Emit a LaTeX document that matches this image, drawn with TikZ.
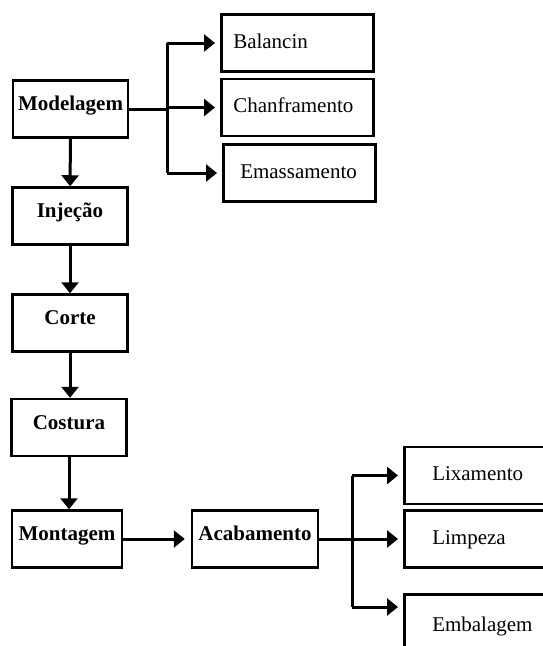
\documentclass[tikz,border=0pt]{standalone}
\usepackage{fontspec}
\setmainfont{Liberation Serif}
\usetikzlibrary{arrows.meta}

\tikzset{
	stepbox/.style={draw, line width=2.5pt, inner sep=0pt, minimum width=115pt, minimum height=57pt,
		text height=13pt, text depth=10pt, font=\fontsize{21pt}{25pt}\selectfont\bfseries},
	taskbox/.style={draw, line width=2.5pt, inner ysep=0pt, inner xsep=12pt, text width=128pt, align=left,
		minimum height=57pt, text height=18pt, text depth=8pt, anchor=west, font=\fontsize{21pt}{25pt}\selectfont},
	flow/.style={line width=3pt, -{Triangle[length=11pt,width=17pt]}},
	link/.style={line width=3pt}
}

\begin{document}
\begin{tikzpicture}[x=1pt,y=-1pt]
		\useasboundingbox (0,0) rectangle (543,646);
		\clip (0,0) rectangle (543,646);
		%main steps
			\node[stepbox] (modelagem) at (70.5,109) {Modelagem};
			\node[stepbox] (injecao) at (70,216) {Injeção};
			\node[stepbox] (corte) at (70,323) {Corte};
			\node[stepbox] (costura) at (69,427.5) {Costura};
			\node[stepbox, minimum width=110pt] (montagem) at (67,539) {Montagem};
			\node[stepbox, minimum width=126pt] (acabamento) at (255,539) {Acabamento};
		%modelagem tasks
			\node[taskbox] (balancin) at (220,43) {Balancin};
			\node[taskbox] (chanframento) at (220,107.5) {Chanframento};
			\node[taskbox, inner xsep=17pt, text width=118pt] (emassamento) at (222,173) {Emassamento};
		%acabamento tasks
			\node[taskbox, inner xsep=28pt, text width=120pt] (lixamento) at (403,475.5) {Lixamento};
			\node[taskbox, inner xsep=28pt, text width=120pt] (limpeza) at (403,539) {Limpeza};
			\node[taskbox, inner xsep=28pt, text width=120pt, anchor=north west, text height=22pt, text depth=5pt] (embalagem) at (403,593) {Embalagem};
		%flow down
			\draw[flow] (modelagem) -- (injecao);
			\draw[flow] (injecao) -- (corte);
			\draw[flow] (corte) -- (corte |- costura.north);
			\draw[flow] (costura) -- (costura |- montagem.north);
			\draw[flow, shorten >=6pt] (montagem.east) -- (montagem.east -| acabamento.west);
		%forks
			\coordinate (fork1) at (167,109);
			\coordinate (fork2) at (352,539);
			\coordinate (embin) at ([yshift=-14pt]embalagem.north west);
			\draw[link] (modelagem.east) -- (fork1);
			\draw[link] (fork1 |- balancin.west) -- (fork1 |- emassamento.west);
			\foreach \task in {balancin,chanframento,emassamento}
				\draw[flow, shorten >=5pt] (fork1 |- \task.west) -- (\task.west);
			\draw[link] (acabamento.east) -- (fork2);
			\draw[link] (fork2 |- lixamento.west) -- (fork2 |- embin);
			\foreach \task in {lixamento,limpeza}
				\draw[flow, shorten >=5pt] (fork2 |- \task.west) -- (\task.west);
			\draw[flow, shorten >=5pt] (fork2 |- embin) -- (embin);
	\end{tikzpicture}
\end{document}
